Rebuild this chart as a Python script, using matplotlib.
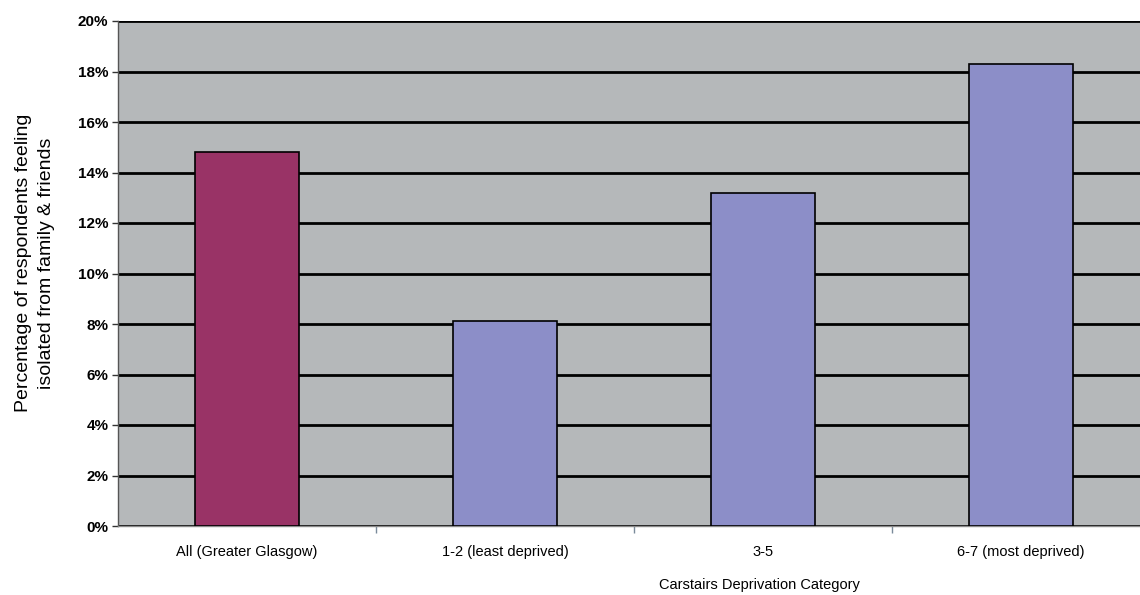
import numpy as np
import matplotlib
matplotlib.use('Agg')
import matplotlib.pyplot as plt
from matplotlib.ticker import FuncFormatter

# Share of respondents feeling isolated, by Carstairs deprivation category
categories = ['All (Greater Glasgow)', '1-2 (least deprived)', '3-5', '6-7 (most deprived)']
percent_isolated = [14.8, 8.1, 13.2, 18.3]
bar_colours = ['#993366', '#8c8ec8', '#8c8ec8', '#8c8ec8']

plt.rcParams['font.family'] = ['Liberation Sans', 'DejaVu Sans']

fig = plt.figure(figsize=(11.4, 5.95), dpi=100)
# plot area runs a little past the right edge of the figure
ax = fig.add_axes([118 / 1140, 69 / 595, 1032 / 1140, 505 / 595])
ax.set_facecolor('#b5b8ba')

x = np.arange(len(categories))
ax.set_axisbelow(True)
ax.yaxis.grid(True, color='black', linewidth=2)
ax.bar(x, percent_isolated, width=0.4, color=bar_colours, edgecolor='black', linewidth=1.2, zorder=3)

ax.set_xlim(-0.5, len(categories) - 0.5)
ax.set_ylim(0, 20)
ax.set_yticks(np.arange(0, 21, 2))
ax.yaxis.set_major_formatter(FuncFormatter(lambda v, p: f'{v:.0f}%'))
ax.tick_params(axis='y', length=4, width=1, color='#333333', labelsize=11, pad=3)
for lbl in ax.get_yticklabels():
    lbl.set_fontweight('semibold')

# category labels sit at the bar centres, tick marks between them
ax.set_xticks(x)
ax.set_xticklabels(categories, fontsize=10.5)
ax.tick_params(axis='x', length=0, pad=14)
ax.set_xticks(x[:-1] + 0.5, minor=True)
ax.tick_params(axis='x', which='minor', length=5, width=1, color='#7a8a9a')

for side in ['top', 'right']:
    ax.spines[side].set_visible(False)
ax.spines['left'].set_color('#555555')
ax.spines['left'].set_linewidth(1)
ax.spines['bottom'].set_color('#8a8a8a')
ax.spines['bottom'].set_linewidth(1)

fig.text(35 / 1140, 1 - 263 / 595, 'Percentage of respondents feeling\nisolated from family & friends',
         rotation=90, ha='center', va='center', fontsize=14, linespacing=1.5)
fig.text(759 / 1140, 1 - 585 / 595, 'Carstairs Deprivation Category', ha='center', va='center', fontsize=10.5)

fig.savefig('out.png', dpi=100)
